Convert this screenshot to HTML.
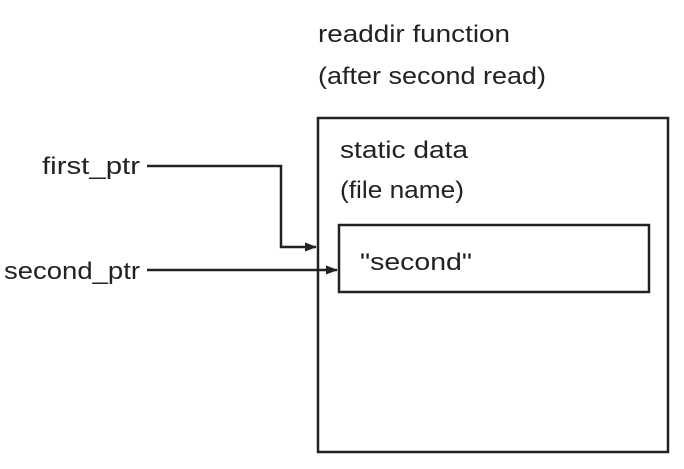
<!DOCTYPE html>
<html><head><style>
body{margin:0;background:#fff;}
svg text{font-family:"Liberation Sans",sans-serif;font-size:24px;fill:#222;}
</style></head><body>
<svg width="684" height="464" viewBox="0 0 684 464">
<defs><marker id="a" markerWidth="12" markerHeight="9" refX="11" refY="4.5" orient="auto" markerUnits="userSpaceOnUse"><path d="M0,0 L12,4.5 L0,9 z" fill="#222"/></marker></defs>
<text x="318" y="42" textLength="192" lengthAdjust="spacingAndGlyphs">readdir function</text>
<text x="318" y="84" textLength="228" lengthAdjust="spacingAndGlyphs">(after second read)</text>
<rect x="318" y="118" width="350" height="334" fill="none" stroke="#222" stroke-width="2.5"/>
<text x="340" y="158" textLength="128" lengthAdjust="spacingAndGlyphs">static data</text>
<text x="340" y="198" textLength="124" lengthAdjust="spacingAndGlyphs">(file name)</text>
<rect x="339" y="225" width="310" height="67" fill="none" stroke="#222" stroke-width="2.5"/>
<text x="360" y="270" textLength="112" lengthAdjust="spacingAndGlyphs">"second"</text>
<text x="42" y="174" textLength="98" lengthAdjust="spacingAndGlyphs">first_ptr</text>
<text x="4" y="279" textLength="136" lengthAdjust="spacingAndGlyphs">second_ptr</text>
<polyline points="147,166 281,166 281,247 316,247" fill="none" stroke="#222" stroke-width="2.5" marker-end="url(#a)"/>
<line x1="147" y1="270" x2="337" y2="270" stroke="#222" stroke-width="2.5" marker-end="url(#a)"/>
</svg>
</body></html>
